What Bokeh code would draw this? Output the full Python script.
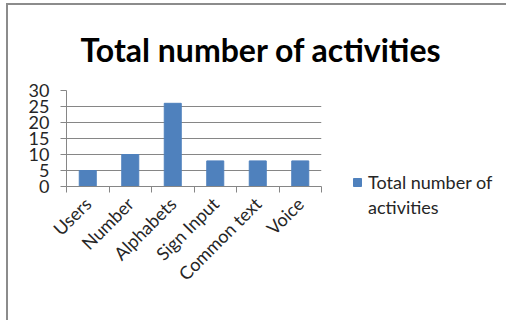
import math
from bokeh.plotting import figure
from bokeh.models import (FixedTicker, Legend, LegendItem, ColumnDataSource, Range1d)
from bokeh.embed import file_html
from bokeh.resources import INLINE

categories = ["Users", "Number", "Alphabets", "Sign Input", "Common text", "Voice"]
values = [5, 10, 26, 8, 8, 8]
y_ticks = [0, 5, 10, 15, 20, 25, 30]
title_text = "Total number of activities"
series_name_lines = ["Total number of", "activities"]

FONT = "Lato"
TXT = "#262626"
GRID = "#868686"
BAR = "#4F81BD"

xs = [i + 0.5 for i in range(len(categories))]
src = ColumnDataSource(dict(x=xs, top=values))

p = figure(frame_width=255, frame_height=96, output_backend="svg", toolbar_location=None,
           x_range=Range1d(0, len(categories)), y_range=Range1d(0, 30),
           min_border_left=58, min_border_right=185, min_border_top=84, min_border_bottom=135,
           margin=(3, 0, 0, 6))
p.styles = {"border-top": "2px solid #8c8c8c", "border-left": "2px solid #8c8c8c"}
p.outline_line_color = None
p.background_fill_color = "white"
p.border_fill_color = "white"

r = p.vbar(x="x", top="top", width=0.4, source=src, color=BAR)
# invisible renderer used only to carry the second legend line
r_blank = p.vbar(x=[], top=[], width=0.4, fill_alpha=0, line_alpha=0)

# title
p.title.text = title_text
p.title.text_font = FONT
p.title.text_font_size = "32px"
p.title.text_font_style = "bold"
p.title.text_color = "black"
p.title.text_line_height = 1.0
p.title.align = "left"
p.title.offset = 14
p.title.standoff = 44

# axes
p.yaxis.ticker = FixedTicker(ticks=y_ticks)
p.yaxis.axis_line_color = GRID
p.yaxis.major_tick_line_color = GRID
p.yaxis.major_tick_out = 6
p.yaxis.major_tick_in = 0
p.yaxis.minor_tick_line_color = None
p.yaxis.major_label_text_font = FONT
p.yaxis.major_label_text_font_size = "18px"
p.yaxis.major_label_text_color = TXT
p.yaxis.major_label_standoff = 11

p.xaxis.ticker = FixedTicker(ticks=xs, minor_ticks=list(range(len(categories) + 1)))
p.xaxis.major_label_overrides = {x: c for x, c in zip(xs, categories)}
p.xaxis.axis_line_color = GRID
p.xaxis.major_tick_line_color = None
p.xaxis.minor_tick_line_color = GRID
p.xaxis.minor_tick_out = 6
p.xaxis.minor_tick_in = 0
p.xaxis.major_label_orientation = math.pi / 4
p.xaxis.major_label_text_font = FONT
p.xaxis.major_label_text_font_size = "18px"
p.xaxis.major_label_text_color = TXT
p.xaxis.major_label_standoff = 8

p.xgrid.grid_line_color = None
p.ygrid.ticker = FixedTicker(ticks=y_ticks)
p.ygrid.grid_line_color = GRID

legend = Legend(items=[LegendItem(label=series_name_lines[0], renderers=[r]),
                       LegendItem(label=series_name_lines[1], renderers=[r_blank])],
                location=(31, -32), border_line_color=None, background_fill_alpha=0,
                padding=0, margin=0, spacing=3, label_text_font=FONT, label_text_font_size="18px",
                label_text_color=TXT, glyph_width=10, glyph_height=10, label_standoff=6)
p.add_layout(legend, "right")

open("out.html", "w").write(file_html(p, INLINE))
